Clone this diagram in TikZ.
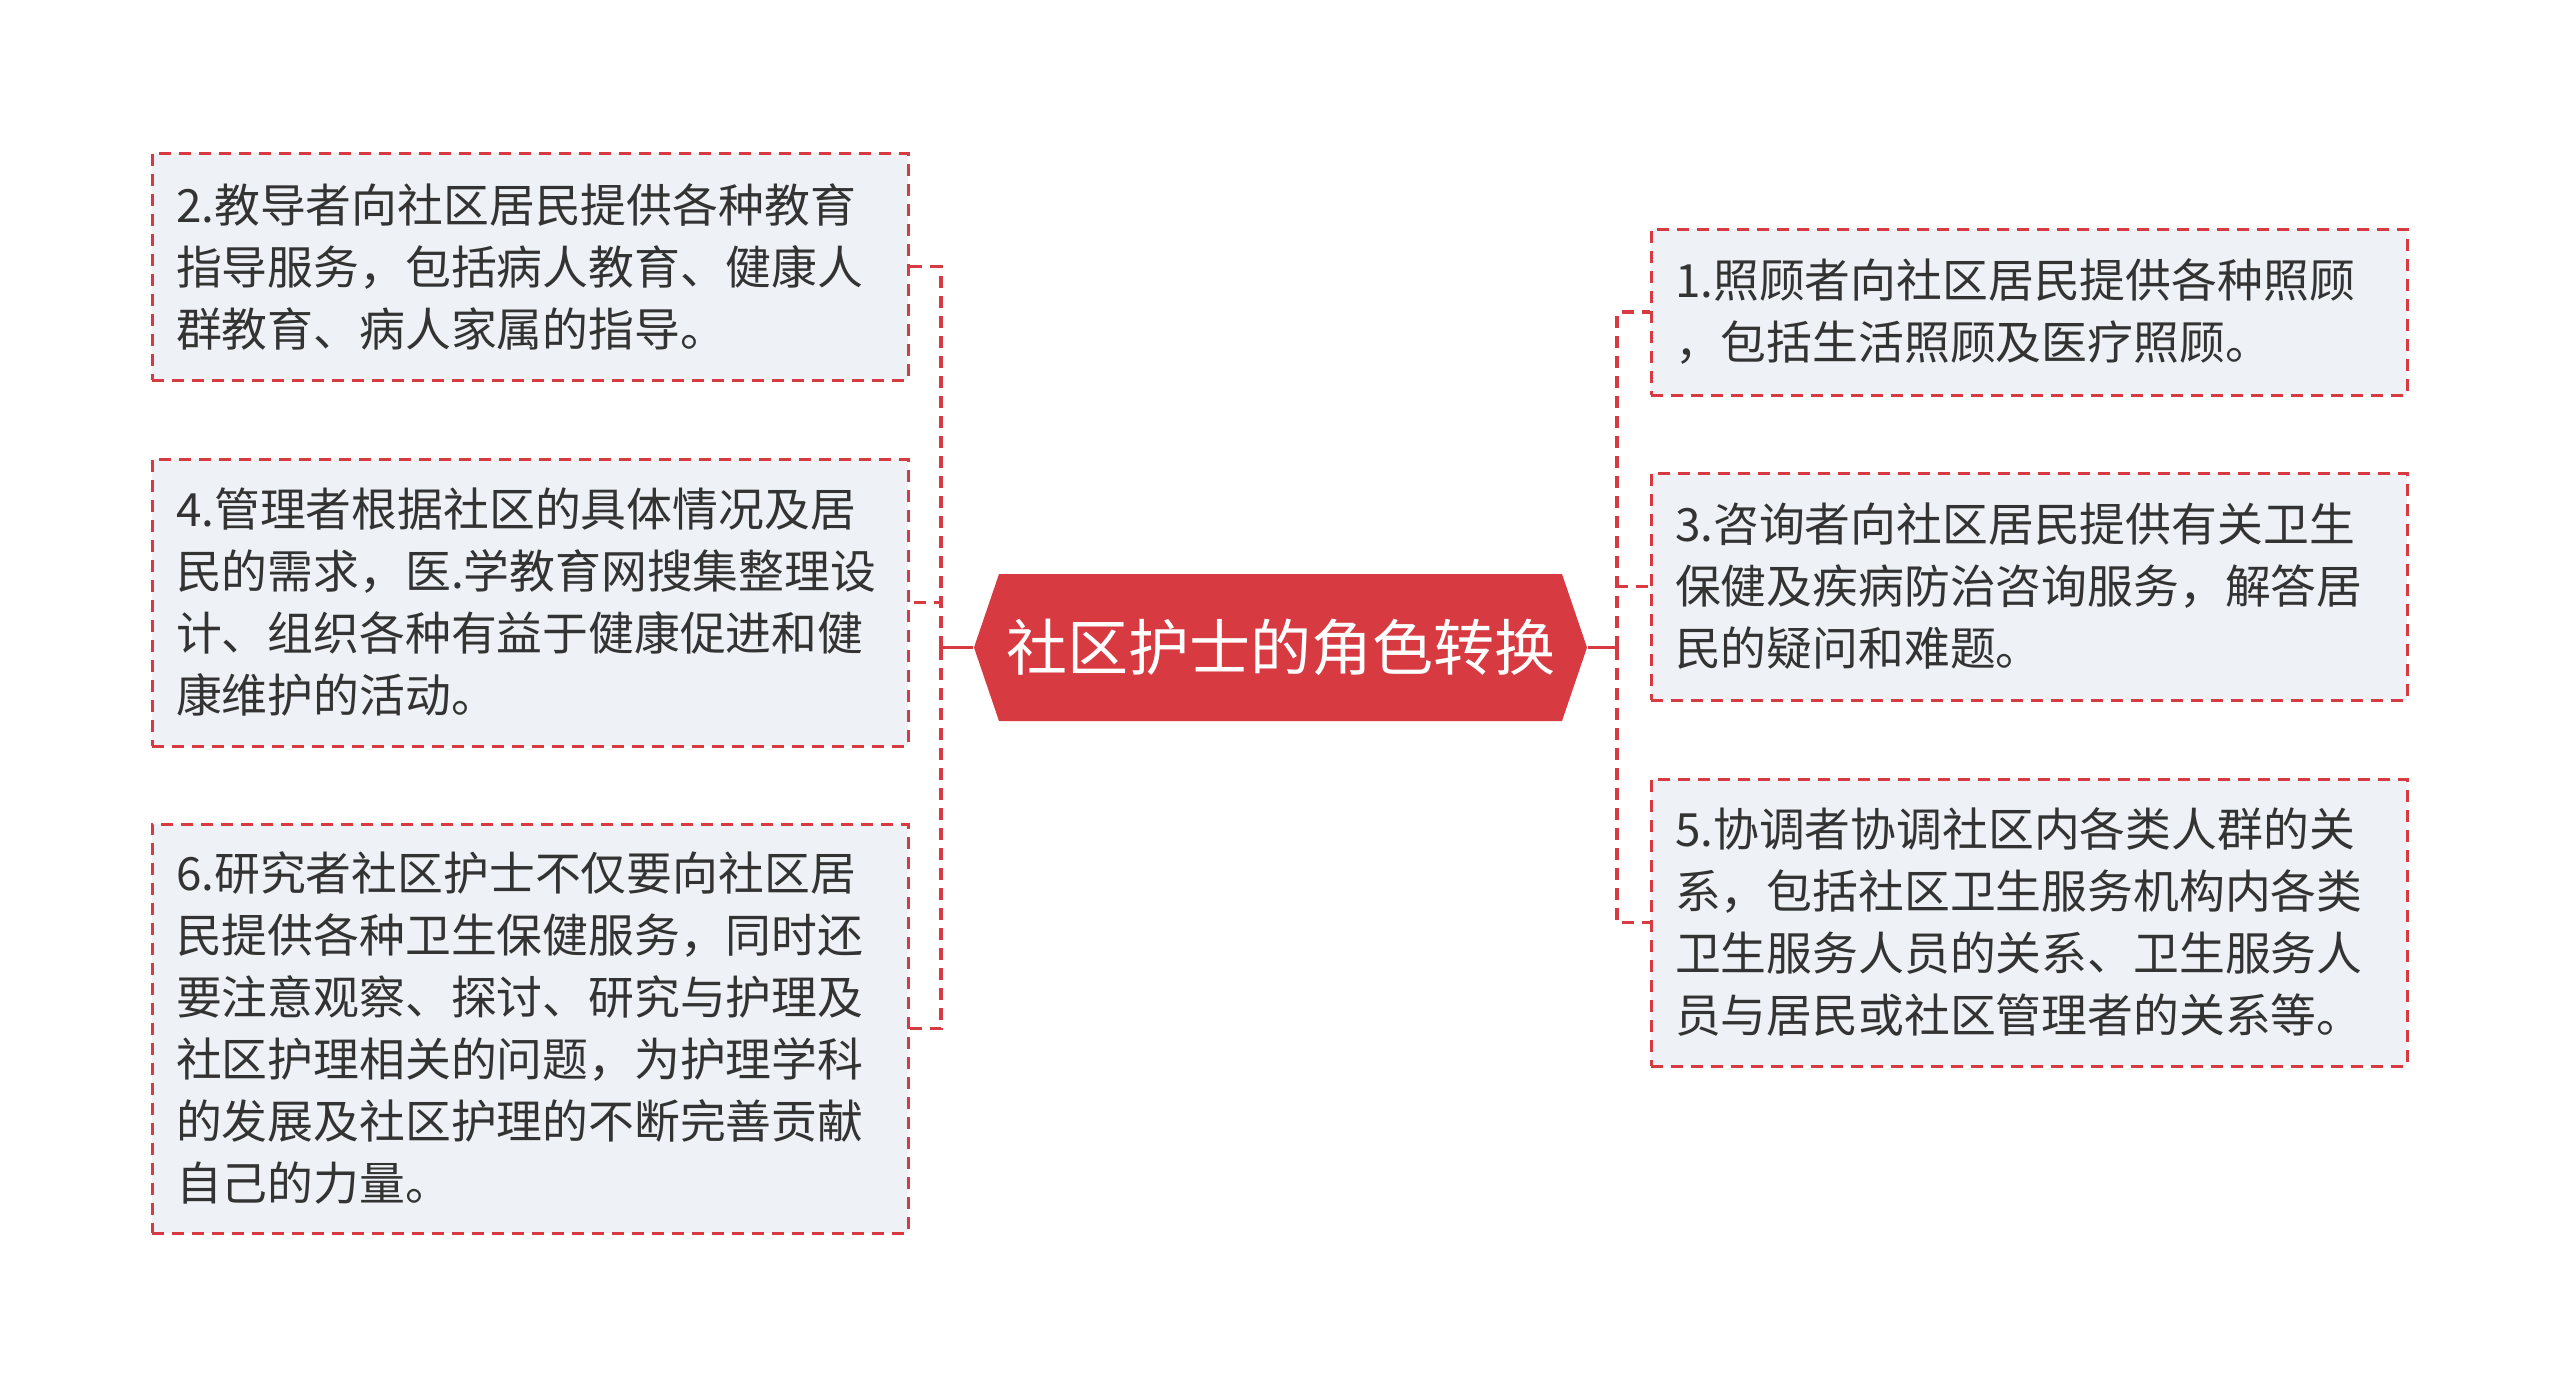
\documentclass[tikz,border=0pt]{standalone}
\usepackage{fontspec}
\newfontfamily\cjk{Noto Sans CJK SC}
\definecolor{mred}{HTML}{D83A41}
\definecolor{boxfill}{HTML}{EEF1F5}
\definecolor{txt}{HTML}{333333}
\begin{document}
\begin{tikzpicture}[x=0.3pt,y=-0.3pt,
  leaf/.style={draw=mred, line width=0.9pt, dash pattern=on 3.6pt off 2.4pt,
    fill=boxfill, text=txt, font={\cjk\fontsize{13.75pt}{18.6pt}\selectfont},
    align=left, text width=212.4pt, inner xsep=7.2pt, inner ysep=0pt,
    minimum width=226.8pt, anchor=center},
  link/.style={draw=mred, line width=0.95pt, dash pattern=on 3.6pt off 2.4pt},
  stub/.style={draw=mred, line width=0.95pt},
  hub/.style={draw=none, text=white, font={\cjk\fontsize{18.3pt}{22pt}\selectfont},
    inner sep=0pt, minimum width=183.9pt, minimum height=44.1pt, anchor=center}]
\useasboundingbox (0,0) rectangle (2560,1387);

% centre hexagon
\fill[mred] (974,647.5) -- (999,574) -- (1562,574) -- (1587,647.5) -- (1562,721) -- (999,721) -- cycle;
\node[hub] (c) at (1280.5,647.5) {社区护士的角色转换};

% left boxes
\node[leaf, minimum height=68.1pt] (b2) at (530,266.5) {2.教导者向社区居民提供各种教育\\指导服务，包括病人教育、健康人\\群教育、病人家属的指导。};
\node[leaf, minimum height=86.1pt] (b4) at (530,602.5) {4.管理者根据社区的具体情况及居\\民的需求，医.学教育网搜集整理设\\计、组织各种有益于健康促进和健\\康维护的活动。};
\node[leaf, minimum height=122.7pt] (b6) at (530,1028.5) {6.研究者社区护士不仅要向社区居\\民提供各种卫生保健服务，同时还\\要注意观察、探讨、研究与护理及\\社区护理相关的问题，为护理学科\\的发展及社区护理的不断完善贡献\\自己的力量。};

% right boxes
\node[leaf, minimum height=49.8pt] (b1) at (2029,312) {1.照顾者向社区居民提供各种照顾\\，包括生活照顾及医疗照顾。};
\node[leaf, minimum height=68.1pt] (b3) at (2029,586.5) {3.咨询者向社区居民提供有关卫生\\保健及疾病防治咨询服务，解答居\\民的疑问和难题。};
\node[leaf, minimum height=86.1pt] (b5) at (2029,922.5) {5.协调者协调社区内各类人群的关\\系，包括社区卫生服务机构内各类\\卫生服务人员的关系、卫生服务人\\员与居民或社区管理者的关系等。};

% junctions
\coordinate (lj) at (941,647.5);
\coordinate (rj) at (1617,647.5);

\draw[stub] (c.west) -- (lj);
\draw[stub] (c.east) -- (rj);

\draw[link] (lj) |- (b2.east);
\draw[link] (lj) |- (b4.east);
\draw[link] (lj) |- (b6.east);
\draw[link] (rj) |- (b1.west);
\draw[link] (rj) |- (b3.west);
\draw[link] (rj) |- (b5.west);
\end{tikzpicture}
\end{document}
